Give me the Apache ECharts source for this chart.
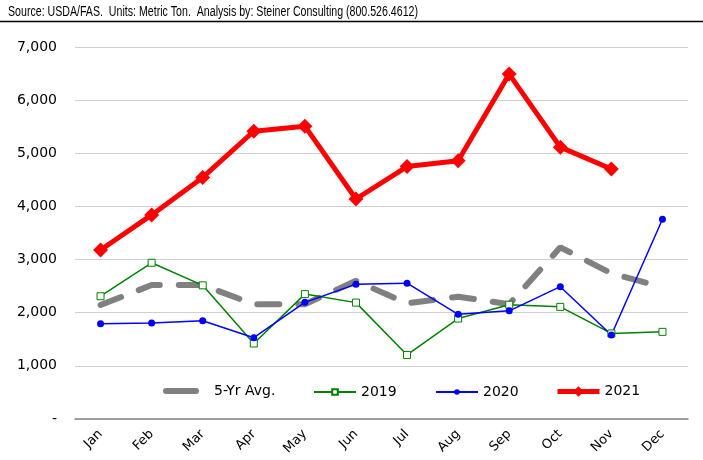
<!DOCTYPE html>
<html>
<head>
<meta charset="utf-8">
<script src="https://cdn.jsdelivr.net/npm/echarts@6/dist/echarts.min.js"></script>
<style>
  html, body { margin: 0; padding: 0; background: #fff; }
  #chart { width: 703px; height: 460px; }
</style>
</head>
<body>
<div id="chart"></div>
<script>
const months = ["Jan", "Feb", "Mar", "Apr", "May", "Jun", "Jul", "Aug", "Sep", "Oct", "Nov", "Dec"];
const avg5 = [2145, 2520, 2520, 2160, 2160, 2600, 2175, 2300, 2160, 3230, 2740, 2480];
const y2019 = [2310, 2940, 2515, 1420, 2350, 2190, 1205, 1890, 2150, 2110, 1610, 1640];
const y2020 = [1790, 1805, 1850, 1530, 2195, 2535, 2555, 1970, 2035, 2490, 1580, 3760];
const y2021 = [3180, 3840, 4545, 5415, 5510, 4140, 4750, 4860, 6490, 5115, 4705];

const font = "DejaVu Sans";
const sourceText = "Source: USDA/FAS.  Units: Metric Ton.  Analysis by: Steiner Consulting (800.526.4612)";
const titleFont = '14px "Liberation Sans"';

// squeeze the source line to the width it has in the original (Calibri is narrow)
const ctx = document.createElement("canvas").getContext("2d");
ctx.font = titleFont;
const titleScale = 410 / ctx.measureText(sourceText).width;

const myChart = echarts.init(document.getElementById("chart"));

const legendText = { fontFamily: font, fontSize: 14, color: "#000" };

const option = {
  animation: false,
  graphic: [
    {
      type: "text",
      x: 8,
      y: 5,
      scaleX: titleScale,
      style: { text: sourceText, font: titleFont, fill: "#000", verticalAlign: "top" }
    },
    { type: "line", shape: { x1: 0, y1: 21.5, x2: 703, y2: 21.5 }, style: { stroke: "#000", lineWidth: 1.5 } }
  ],
  grid: { left: 75, right: 15, top: 47, bottom: 41 },
  legend: [
    {
      left: 163, top: 384, padding: 0, itemWidth: 43, itemHeight: 12,
      textStyle: legendText,
      data: [{ name: "5-Yr Avg.", itemStyle: { opacity: 0 }, lineStyle: { width: 6, type: [30, 40], cap: "round" } }]
    },
    {
      left: 313, top: 385, padding: 0, itemWidth: 42, itemHeight: 7,
      textStyle: legendText,
      data: ["2019"]
    },
    {
      left: 435, top: 385, padding: 0, itemWidth: 42, itemHeight: 7,
      textStyle: legendText,
      data: ["2020"]
    },
    {
      left: 555, top: 384.5, padding: 0, itemWidth: 42, itemHeight: 13,
      textStyle: legendText,
      data: [{ name: "2021", lineStyle: { width: 5 } }]
    }
  ],
  xAxis: {
    type: "category",
    data: months,
    boundaryGap: true,
    axisLine: { lineStyle: { color: "#868686", width: 1.5 } },
    axisTick: { interval: 2, length: 5, lineStyle: { color: "#868686", width: 1.5 } },
    axisLabel: { rotate: 45, margin: 13, interval: 0, fontFamily: font, fontSize: 13, color: "#000" }
  },
  yAxis: {
    type: "value",
    min: 0,
    max: 7000,
    interval: 1000,
    axisLine: { show: false },
    axisTick: { show: false },
    splitLine: { lineStyle: { color: "#cfcfcf", width: 1 } },
    axisLabel: {
      margin: 18,
      fontFamily: font,
      fontSize: 14,
      color: "#000",
      formatter: (v) => (v === 0 ? "-" : v.toLocaleString("en-US"))
    }
  },
  series: [
    {
      name: "5-Yr Avg.",
      type: "line",
      data: avg5,
      symbol: "none",
      color: "#808080",
      lineStyle: { color: "#808080", width: 6, type: [22, 19], cap: "round" }
    },
    {
      name: "2019",
      type: "line",
      data: y2019,
      symbol: "rect",
      symbolSize: 7,
      color: "#008000",
      lineStyle: { color: "#008000", width: 1.5 },
      itemStyle: { color: "#fff", borderColor: "#008000", borderWidth: 1 }
    },
    {
      name: "2020",
      type: "line",
      data: y2020,
      symbol: "circle",
      symbolSize: 7,
      color: "#0000ff",
      lineStyle: { color: "#0000ff", width: 1.5 },
      itemStyle: { color: "#0000ff" }
    },
    {
      name: "2021",
      type: "line",
      data: y2021,
      symbol: "diamond",
      symbolSize: 15,
      color: "#ff0000",
      lineStyle: { color: "#ff0000", width: 5 },
      itemStyle: { color: "#ff0000" }
    }
  ]
};

myChart.setOption(option);
</script>
</body>
</html>
